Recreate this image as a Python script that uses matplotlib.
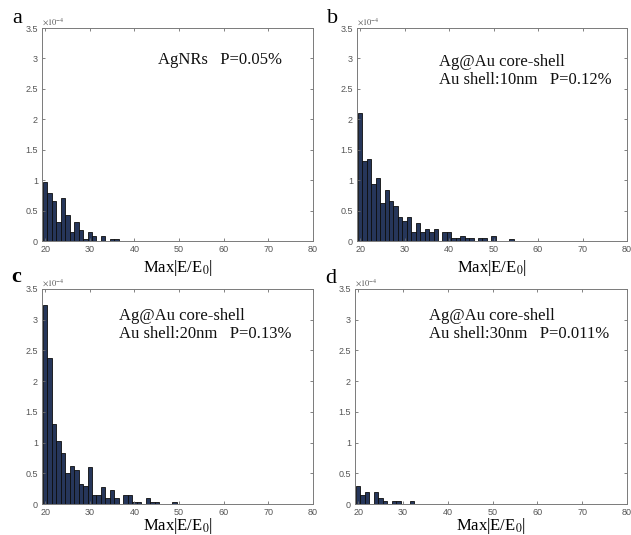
import matplotlib.pyplot as plt
import numpy as np

plt.rcParams['font.family'] = ['Liberation Sans', 'DejaVu Sans']
plt.rcParams['mathtext.fontset'] = 'stix'

# histogram bin centres (Max|E/E0|) and probabilities in units of 1e-4
centers_a = [20, 21, 22, 23, 24, 25, 26, 27, 28, 29, 30, 31, 32, 33, 34, 35, 36]
prob_a = [0.97, 0.79, 0.65, 0.32, 0.70, 0.42, 0.14, 0.32, 0.18, 0.04, 0.14, 0.09,
          0.0, 0.09, 0.0, 0.04, 0.04]

centers_b = list(range(20, 55))
prob_b = [2.10, 1.32, 1.35, 0.93, 1.03, 0.62, 0.84, 0.66, 0.57, 0.39, 0.33, 0.39,
          0.15, 0.29, 0.15, 0.20, 0.15, 0.20, 0.0, 0.15, 0.15, 0.05, 0.05, 0.09,
          0.05, 0.05, 0.0, 0.05, 0.05, 0.0, 0.09, 0.0, 0.0, 0.0, 0.04]

centers_c = list(range(20, 50))
prob_c = [3.24, 2.37, 1.31, 1.02, 0.83, 0.51, 0.62, 0.56, 0.33, 0.29, 0.61, 0.14,
          0.14, 0.28, 0.10, 0.22, 0.10, 0.0, 0.14, 0.14, 0.04, 0.04, 0.0, 0.09,
          0.04, 0.04, 0.0, 0.0, 0.0, 0.04]

centers_d = [20, 21, 22, 23, 24, 25, 26, 27, 28, 29, 30, 31, 32]
prob_d = [0.29, 0.14, 0.19, 0.0, 0.19, 0.10, 0.05, 0.0, 0.05, 0.05, 0.0, 0.0, 0.05]

letters = ['a', 'b', 'c', 'd']
notes = ['AgNRs   P=0.05%',
         'Ag@Au core-shell\nAu shell:10nm   P=0.12%',
         'Ag@Au core-shell\nAu shell:20nm   P=0.13%',
         'Ag@Au core-shell\nAu shell:30nm   P=0.011%']
note_xy = [(45.3, 2.97), (37.7, 2.80), (36.6, 2.91), (35.8, 2.91)]

W, H = 631, 535
fig = plt.figure(figsize=(W / 100, H / 100), dpi=100)

# axes boxes in pixels: left, top, right, bottom
boxes = [(42, 28, 313, 241), (357, 28, 627, 241),
         (42, 289, 313, 504), (355, 289, 627, 504)]
letter_pos = [(12, 23), (327, 23), (11, 282), (325, 283)]

data = [(centers_a, prob_a), (centers_b, prob_b), (centers_c, prob_c), (centers_d, prob_d)]
serif = 'Liberation Serif'
grey = '#6e6e6e'

for i, (cx, py) in enumerate(data):
    l, t, r, b = boxes[i]
    ax = fig.add_axes([l / W, 1 - b / H, (r - l) / W, (b - t) / H])
    ax.bar(cx, py, width=1.0, color='#26365a', edgecolor='#0d0d0d', linewidth=0.6)
    ax.set_xlim(19.3, 80)
    ax.set_ylim(0, 3.5)
    ax.set_xticks(np.arange(20, 81, 10))
    ax.set_yticks(np.arange(0, 3.51, 0.5))
    ax.set_yticklabels(['%g' % v for v in np.arange(0, 3.51, 0.5)])
    ax.tick_params(direction='in', top=True, right=True, length=2.5, width=0.6,
                   labelsize=6.5, colors=grey, labelcolor='#555555', pad=3)
    for s in ax.spines.values():
        s.set_color('#7a7a7a')
        s.set_linewidth(0.7)
    ax.text(0.0, 1.005, r'$\times10^{-4}$', transform=ax.transAxes, fontsize=6,
            color='#555555', va='bottom', ha='left')
    ax.set_xlabel(r'Max|E/E$_{\rm 0}$|', fontfamily=serif, fontsize=12, va='top')
    ax.xaxis.set_label_coords(0.5, -0.08 if i < 2 else -0.058)
    nx, ny = note_xy[i]
    ax.text(nx, ny, notes[i], fontfamily=serif, fontsize=12, va='center', ha='left',
            linespacing=1.15, color='#111111')
    lx, ly = letter_pos[i]
    fig.text(lx / W, 1 - ly / H, letters[i], fontfamily=serif, fontsize=16,
             fontweight='bold' if letters[i] == 'c' else 'normal', va='baseline')

fig.savefig('out.png', dpi=100)
